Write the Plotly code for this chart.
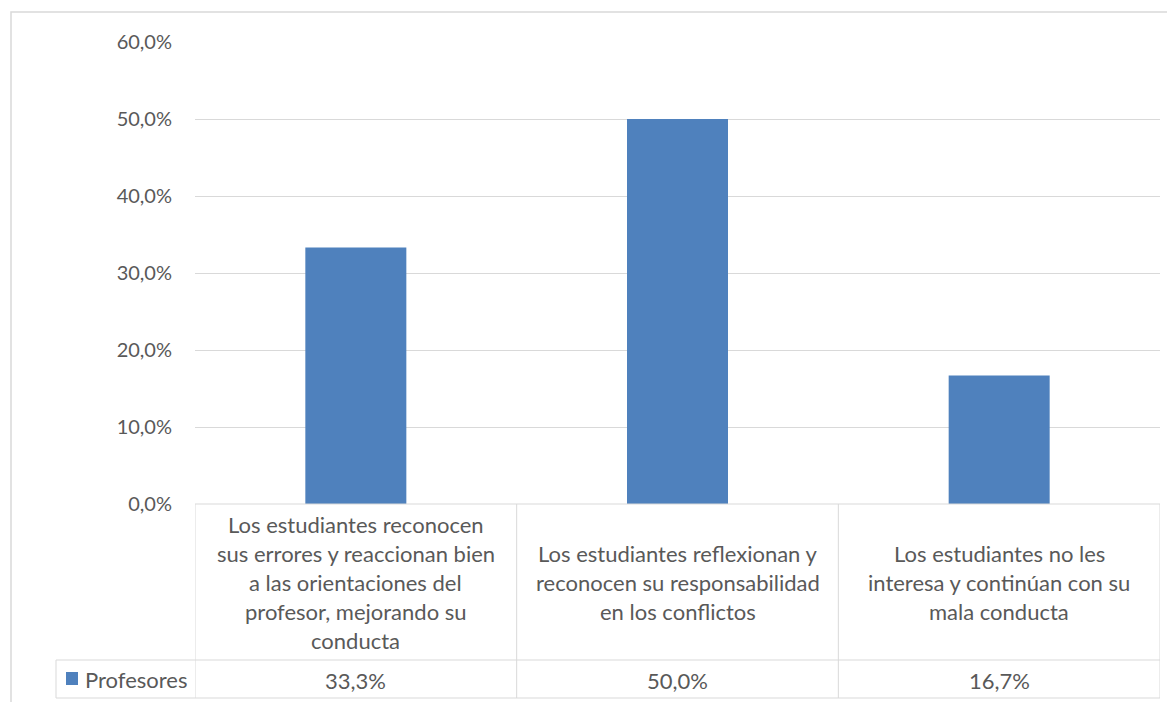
import plotly.graph_objects as go

categories = [
    "Los estudiantes reconocen<br>sus errores y reaccionan bien<br>a las orientaciones del<br>profesor, mejorando su<br>conducta",
    "Los estudiantes reflexionan y<br>reconocen su responsabilidad<br>en los conflictos",
    "Los estudiantes no les<br>interesa y continúan con su<br>mala conducta",
]
series_name = "Profesores"
values = [0.333, 0.500, 0.167]
tick_values = [0, 0.1, 0.2, 0.3, 0.4, 0.5, 0.6]

OFF = 8  # page body margin
W, H = 1175 - OFF, 702 - OFF
L, R, T, B = 195 - OFF, 15, 42 - OFF, 702 - 504
PH = H - T - B
PW = W - L - R

BAR = "#4F81BD"
GRID = "#D9D9D9"
TXT = "#595959"
FONT = "Lato"


def py(ypage):
    return 1 - (ypage - OFF - T) / PH


def px(xpage):
    return (xpage - OFF - L) / PW


fig = go.Figure()
x_idx = list(range(len(categories)))
fig.add_trace(go.Bar(x=x_idx, y=values, marker=dict(color=BAR, line=dict(width=0)),
                     name=series_name, showlegend=False, hoverinfo="skip"))

shapes = []
line = dict(color=GRID, width=1)
y_top, y_mid, y_bot = py(504), py(660), py(698)
for yy in (y_mid, y_bot):
    shapes.append(dict(type="line", xref="paper", yref="paper", x0=px(56), x1=1, y0=yy, y1=yy, line=line))
shapes.append(dict(type="line", xref="paper", yref="paper", x0=0, x1=1, y0=y_top, y1=y_top, line=line))
n = len(categories)
for k in range(n + 1):
    xb = k - 0.5
    shapes.append(dict(type="line", xref="x", yref="paper", x0=xb, x1=xb, y0=y_top, y1=y_bot, line=line))
shapes.append(dict(type="line", xref="paper", yref="paper", x0=px(56), x1=px(56), y0=y_mid, y1=y_bot, line=line))
shapes.append(dict(type="rect", xref="paper", yref="paper", x0=px(66), x1=px(78), y0=py(685), y1=py(672),
                   fillcolor=BAR, line=dict(width=0)))
shapes.append(dict(type="rect", xref="paper", yref="paper", x0=px(11), x1=px(1185), y0=py(715), y1=py(12),
                   line=dict(color=GRID, width=1.5), fillcolor="rgba(0,0,0,0)", layer="below"))

annotations = []
cell_center = 582.5
spacing = 29
for i, cat in enumerate(categories):
    lines = cat.split("<br>")
    start = cell_center - spacing * (len(lines) - 1) / 2
    for j, ln in enumerate(lines):
        annotations.append(dict(x=i, y=py(start + j * spacing), xref="x", yref="paper", text=ln,
                                showarrow=False, xanchor="center", yanchor="middle",
                                font=dict(family=FONT, size=22, color=TXT)))
    label = f"{values[i] * 100:.1f}%".replace(".", ",")
    annotations.append(dict(x=i, y=py(680), xref="x", yref="paper", text=label, showarrow=False,
                            xanchor="center", yanchor="middle", font=dict(family=FONT, size=22, color=TXT)))
annotations.append(dict(x=px(83), y=py(679), xref="paper", yref="paper", text=series_name, showarrow=False,
                        xanchor="left", yanchor="middle", font=dict(family=FONT, size=22, color=TXT)))

fig.update_layout(
    width=W, height=H,
    margin=dict(l=L, r=R, t=T, b=B),
    paper_bgcolor="white", plot_bgcolor="white",
    separators=", ",
    bargap=0.686,
    shapes=shapes,
    annotations=annotations,
    xaxis=dict(range=[-0.5, n - 0.5], showticklabels=False, showgrid=False, zeroline=False,
               showline=False, ticks=""),
    yaxis=dict(range=[0, 0.6], tickvals=tick_values, tickformat=".1%", showgrid=True, gridcolor=GRID,
               gridwidth=1, zeroline=False, showline=False, ticks="", ticklabelstandoff=22,
               tickfont=dict(family=FONT, size=20, color=TXT)),
)

fig.write_html("out.html")
